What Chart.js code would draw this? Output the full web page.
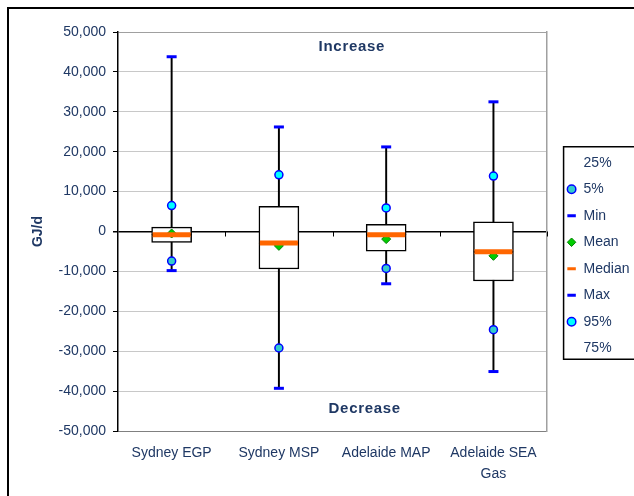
<!DOCTYPE html>
<html><head><meta charset="utf-8">
<script src="https://cdn.jsdelivr.net/npm/chart.js@4/dist/chart.umd.min.js"></script>
<style>
html,body{margin:0;padding:0;overflow:hidden;background:#fff;width:634px;height:496px;}
#wrap{position:absolute;left:0;top:0;width:680px;height:496px;}
</style></head><body>
<div id="wrap"><canvas id="c"></canvas></div>
<script>
// ---- data ----
const categories = ['Sydney EGP', 'Sydney MSP', 'Adelaide MAP', ['Adelaide SEA', 'Gas']];
const minVals    = [-9800, -39300, -13100, -35100];
const p5Vals     = [-7400, -29200, -9250, -24600];
const q1Vals     = [-2750, -9400, -4900, -12400];
const medianVals = [-800, -2900, -800, -5100];
const meanVals   = [-500, -3600, -1900, -6100];
const q3Vals     = [1100, 6300, 1800, 2400];
const p95Vals    = [6500, 14200, 5900, 13900];
const maxVals    = [43800, 26200, 21200, 32500];
const yMin = -50000, yMax = 50000, yStep = 10000;
const legendOrder = ['25%', '5%', 'Min', 'Mean', 'Median', 'Max', '95%', '75%'];
const notes = [
  {text: 'Increase', xFrac: 0.545, y: 46250},
  {text: 'Decrease', xFrac: 0.575, y: -44500}
];

const TEXT = '#1F3864';
const FONT = "'Liberation Sans', Arial, sans-serif";
Chart.defaults.font.family = FONT;
Chart.defaults.font.size = 14;
Chart.defaults.color = TEXT;
Chart.defaults.animation = false;

function pts(label, data, style, r, bg, bc, bw, legendLW) {
  return {type: 'line', label, data, showLine: false, pointStyle: style,
    pointRadius: r, pointHoverRadius: r, pointBackgroundColor: bg,
    pointBorderColor: bc, pointBorderWidth: bw, pointHoverBorderWidth: bw,
    legendLineWidth: legendLW};
}

const datasets = [
  pts('Median', medianVals, 'line', 19, '#FF6600', '#FF6600', 5, 3),
  pts('Mean', meanVals, 'rectRot', 4.5, '#00CC00', '#008000', 1, 1),
  pts('5%', p5Vals, 'circle', 4, '#33CCCC', '#0000FF', 1.5, 1.5),
  pts('95%', p95Vals, 'circle', 4, '#00FFFF', '#0000FF', 1.5, 1.5),
  pts('Min', minVals, 'line', 5, '#0000FF', '#0000FF', 3, 3),
  pts('Max', maxVals, 'line', 5, '#0000FF', '#0000FF', 3, 3),
  {type: 'bar', label: '25%', data: q1Vals.map((v, i) => [v, medianVals[i]]),
   backgroundColor: '#FFFFFF', borderColor: '#000000', borderWidth: 1.5,
   borderSkipped: false, barThickness: 40, grouped: false},
  {type: 'bar', label: '75%', data: medianVals.map((v, i) => [v, q3Vals[i]]),
   backgroundColor: '#FFFFFF', borderColor: '#000000', borderWidth: 1.5,
   borderSkipped: false, barThickness: 40, grouped: false},
  {type: 'bar', label: 'whisker', data: minVals.map((v, i) => [v, maxVals[i]]),
   backgroundColor: '#000000', borderWidth: 0, barThickness: 1.3, grouped: false}
];

const framePlugin = {
  id: 'frames',
  beforeDraw(chart) {
    const ctx = chart.ctx;
    ctx.save();
    ctx.strokeStyle = '#000';
    ctx.lineWidth = 2;
    ctx.strokeRect(8, 8, chart.width + 20, chart.height + 20);
    ctx.restore();
  },
  beforeDatasetsDraw(chart) {
    const {ctx, scales: {x, y}} = chart;
    const y0 = y.getPixelForValue(0);
    ctx.save();
    ctx.strokeStyle = '#000';
    ctx.lineWidth = 1;
    for (let i = 0; i < categories.length; i++) {
      const px = Math.round(x.getPixelForValue(i + 0.5)) + 0.5;
      ctx.beginPath(); ctx.moveTo(px, y0); ctx.lineTo(px, y0 + 5); ctx.stroke();
    }
    ctx.restore();
  },
  afterDraw(chart) {
    const {ctx, chartArea, scales: {y}} = chart;
    ctx.save();
    ctx.font = 'bold 15px ' + FONT;
    ctx.fillStyle = TEXT;
    ctx.textAlign = 'center';
    ctx.textBaseline = 'middle';
    try { ctx.letterSpacing = '0.7px'; } catch (e) {}
    notes.forEach(n => {
      ctx.fillText(n.text, chartArea.left + n.xFrac * (chartArea.right - chartArea.left), y.getPixelForValue(n.y));
    });
    ctx.restore();
    // legend frame
    const lg = chart.legend;
    if (lg && lg.legendHitBoxes && lg.legendHitBoxes.length) {
      const hb = lg.legendHitBoxes;
      const top = hb[0].top - 9;
      const bottom = hb[hb.length - 1].top + hb[hb.length - 1].height + 4;
      const left = hb[0].left - 3;
      ctx.save();
      ctx.strokeStyle = '#000';
      ctx.lineWidth = 1.5;
      ctx.strokeRect(left, top, 200, bottom - top);
      ctx.restore();
    }
  }
};

new Chart(document.getElementById('c'), {
  type: 'bar',
  data: {labels: categories, datasets},
  options: {
    responsive: true,
    maintainAspectRatio: false,
    layout: {padding: {left: 8, top: 32, right: 40.5, bottom: 17}},
    plugins: {
      tooltip: {enabled: false},
      legend: {
        position: 'right',
        align: 'center',
        labels: {
          usePointStyle: true,
          boxWidth: 10,
          boxHeight: 6,
          padding: 12.5,
          color: TEXT,
          font: {size: 14},
          generateLabels(chart) {
            const map = {};
            chart.data.datasets.forEach((ds, i) => { map[ds.label] = {ds, i}; });
            return legendOrder.map(name => {
              const {ds, i} = map[name];
              const isBox = ds.type === 'bar';
              return {
                text: name,
                datasetIndex: i,
                fillStyle: isBox ? 'rgba(0,0,0,0)' : ds.pointBackgroundColor,
                strokeStyle: isBox ? 'rgba(0,0,0,0)' : ds.pointBorderColor,
                lineWidth: isBox ? 0 : ds.legendLineWidth,
                pointStyle: isBox ? 'rect' : ds.pointStyle,
                fontColor: TEXT,
                hidden: !chart.isDatasetVisible(i)
              };
            });
          }
        }
      }
    },
    scales: {
      x: {
        grid: {display: false, drawTicks: false},
        border: {display: false},
        ticks: {padding: 11, color: TEXT, font: {size: 14, lineHeight: 1.55}, maxRotation: 0, autoSkip: false},
        afterFit(s) { s.height = 48; }
      },
      y: {
        min: yMin, max: yMax,
        ticks: {stepSize: yStep, padding: 7, color: TEXT, font: {size: 14},
          callback: v => Number(v).toLocaleString('en-US')},
        grid: {
          color: c => c.tick && c.tick.value === 0 ? '#000000' : (c.tick && c.tick.value === yMin ? '#808080' : (c.tick && c.tick.value === yMax ? '#A0A0A0' : '#C8C8C8')),
          lineWidth: c => c.tick && (c.tick.value === 0) ? 1.5 : 1,
          tickColor: '#000000',
          tickLength: 5
        },
        border: {display: true, color: '#000000', width: 1.5},
        title: {display: true, text: 'GJ/d', color: TEXT, font: {size: 14, weight: 'bold'}, padding: {top: 22, bottom: 0}},
        afterFit(s) { s.width = 110; }
      },
      yR: {
        type: 'linear', position: 'right', display: true, min: yMin, max: yMax,
        grid: {drawOnChartArea: false, drawTicks: false},
        ticks: {display: false},
        border: {display: true, color: '#A0A0A0', width: 1.5},
        afterFit(s) { s.width = 7; }
      }
    }
  },
  plugins: [framePlugin]
});
</script>
</body></html>
